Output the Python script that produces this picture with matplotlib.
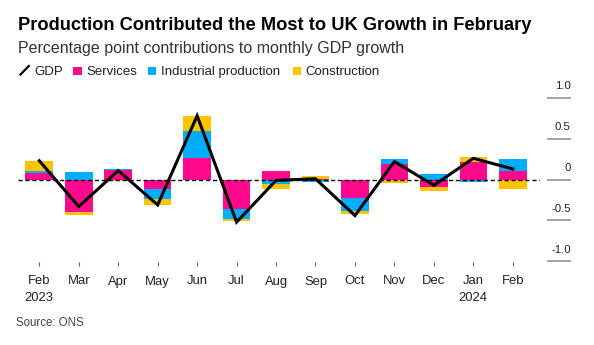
import matplotlib
matplotlib.use("Agg")
import matplotlib.pyplot as plt
from matplotlib import transforms
from matplotlib.lines import Line2D
from matplotlib.patches import Rectangle
import numpy as np

plt.rcParams["font.family"] = ["Liberation Sans", "DejaVu Sans"]

# Monthly contributions to UK GDP growth (percentage points)
months = ["Feb", "Mar", "Apr", "May", "Jun", "Jul", "Aug",
          "Sep", "Oct", "Nov", "Dec", "Jan", "Feb"]
years = ["2023", "", "", "", "", "", "", "", "", "", "", "2024", ""]
services = [0.08, -0.40, 0.12, -0.12, 0.26, -0.36, 0.10,
            0.01, -0.22, 0.19, -0.09, 0.22, 0.11]
industrial = [0.02, 0.09, 0.01, -0.12, 0.33, -0.12, -0.05,
              -0.03, -0.17, 0.06, 0.07, -0.03, 0.14]
construction = [0.13, -0.03, -0.02, -0.07, 0.19, -0.03, -0.07,
                0.03, -0.03, -0.04, -0.05, 0.06, -0.12]
gdp = [0.23, -0.33, 0.11, -0.31, 0.78, -0.52, -0.01,
       0.01, -0.44, 0.22, -0.07, 0.26, 0.13]
y_ticks = [1.0, 0.5, 0.0, -0.5, -1.0]
y_tick_labels = ["1.0", "0.5", "0", "-0.5", "-1.0"]

series_names = ["Services", "Industrial production", "Construction"]
series_colors = ["#FF0A8C", "#00AEFF", "#FFC400"]

W, H = 594, 345
fig = plt.figure(figsize=(W / 100, H / 100), dpi=100)


def fx(px):
    return px / W


def fy(py):
    return 1 - py / H


ax_left, ax_right, ax_top, ax_bottom = 18, 540, 90, 261.7
ax = fig.add_axes([fx(ax_left), fy(ax_bottom),
                   (ax_right - ax_left) / W, (ax_bottom - ax_top) / H])

# Diverging stacked bars: positives stack up from zero, negatives down
x = np.arange(len(months))
pos_base = np.zeros(len(x))
neg_base = np.zeros(len(x))
for vals, color in zip([services, industrial, construction], series_colors):
    v = np.array(vals, dtype=float)
    base = np.where(v >= 0, pos_base, neg_base)
    ax.bar(x, v, width=0.7, bottom=base, color=color, linewidth=0, zorder=2)
    pos_base += np.clip(v, 0, None)
    neg_base += np.clip(v, None, 0)

ax.axhline(0, color="black", lw=1.0, ls=(0, (3, 2)), zorder=3)
ax.plot(x, gdp, color="black", lw=2.2, zorder=4, solid_joinstyle="miter")

ax.set_xlim(-0.54, 12.69)
ax.set_ylim(-1.004, 1.095)
for s in ax.spines.values():
    s.set_visible(False)
ax.set_facecolor("none")
ax.set_yticks([])
ax.set_xticks(x)
ax.set_xticklabels([])
ax.tick_params(axis="x", length=2.9, width=0.8, color="#666666",
               direction="out")

# Value scale on the right: short rules with labels sitting above them
ytrans = ax.get_yaxis_transform()
seg_x0 = (547.3 - ax_left) / (ax_right - ax_left)
seg_x1 = (570.7 - ax_left) / (ax_right - ax_left)
label_trans = transforms.offset_copy(ytrans, fig=fig, y=8.5, units="dots")
for v, lbl in zip(y_ticks, y_tick_labels):
    ax.plot([seg_x0, seg_x1], [v, v], transform=ytrans, color="#8a8a8a",
            lw=1.1, clip_on=False, solid_capstyle="butt")
    ax.text(seg_x1, v, lbl, transform=label_trans, ha="right",
            va="baseline", fontsize=8.2, color="#222222")

# Month and year labels
xlab = transforms.blended_transform_factory(ax.transData, fig.transFigure)
for i, (m, yr) in enumerate(zip(months, years)):
    ax.text(i, fy(284.5), m, transform=xlab, ha="center", va="baseline",
            fontsize=9.4, color="#222222")
    if yr:
        ax.text(i, fy(300.7), yr, transform=xlab, ha="center",
                va="baseline", fontsize=9.4, color="#222222")

renderer = fig.canvas.get_renderer()


def fitted_text(px, py, s, width_px, **kw):
    t = fig.text(fx(px), fy(py), s, fontsize=12, va="baseline", **kw)
    w = t.get_window_extent(renderer=renderer).width
    t.set_fontsize(12 * width_px / w)
    return t


fitted_text(18.5, 30, "Production Contributed the Most to UK Growth in February",
            511, fontweight="bold", color="#000000")
fitted_text(18.5, 53.3, "Percentage point contributions to monthly GDP growth",
            386, color="#333333")

# Legend
fig.add_artist(Line2D([fx(20.5), fx(28.8)], [fy(74.5), fy(66)],
                      color="black", lw=1.6, transform=fig.transFigure))
fig.text(fx(34.5), fy(75), "GDP", fontsize=9.5, va="baseline",
         color="#222222")
sq = 8.3
for (sx, tx), name, color in zip([(73.3, 86.2), (147.7, 161.2), (292.7, 305.2)],
                                 series_names, series_colors):
    fig.add_artist(Rectangle((fx(sx), fy(75)), sq / W, sq / H, color=color,
                             transform=fig.transFigure, linewidth=0))
    fig.text(fx(tx), fy(75), name, fontsize=9.5, va="baseline",
             color="#222222")

fig.text(fx(16.2), fy(326), "Source: ONS", fontsize=8.3, va="baseline",
         color="#444444")

fig.savefig("out.png", dpi=100)
